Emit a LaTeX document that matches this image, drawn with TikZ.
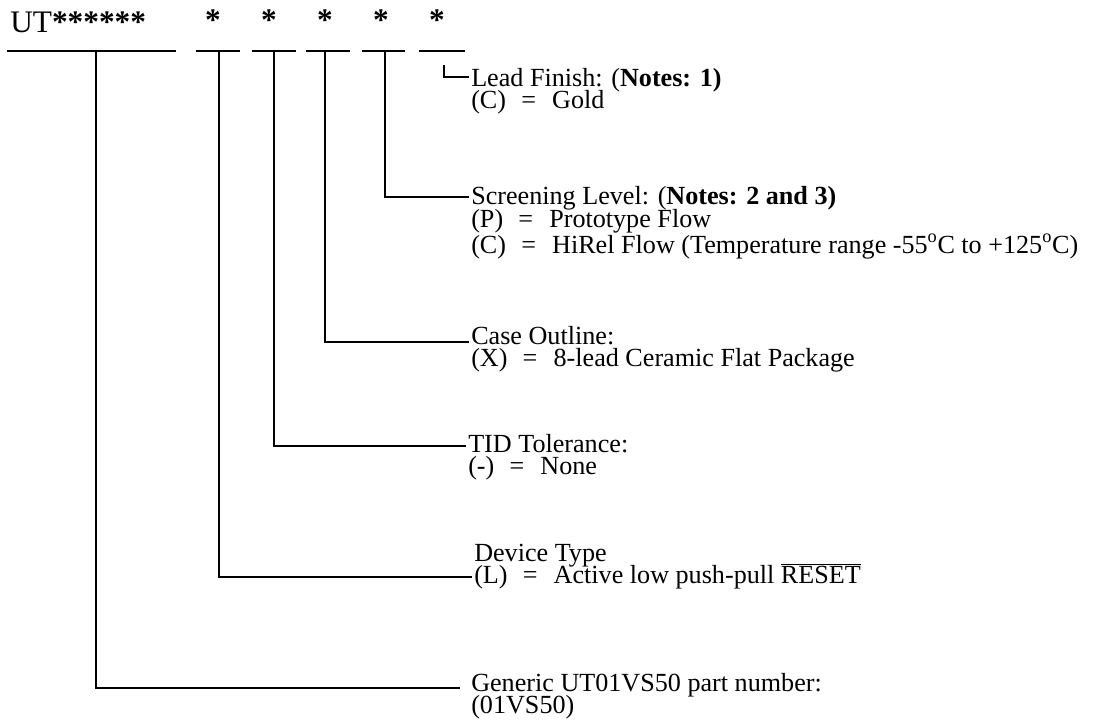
\documentclass[tikz,border=0pt]{standalone}
\usepackage{fontspec}
\setmainfont{Liberation Serif}
\begin{document}
\begin{tikzpicture}[x=0.75pt,y=-0.75pt,
  bar/.style={line width=2.2pt},
  conn/.style={line width=2pt},
  hdr/.style={inner sep=0pt,font=\fontsize{23.5}{28}\selectfont},
  txt/.style={anchor=base west,inner sep=0pt,font=\fontsize{19.6}{22}\selectfont}]
\newcommand{\optline}[2]{#1\hspace{0.58em}=\hspace{0.62em}#2}
\newcommand{\hstar}{\textbf{*}}
\useasboundingbox (0,0) rectangle (1096,726);
% header
\node[hdr,anchor=base west] (ut) at (10,32) {UT\hstar\hstar\hstar\hstar\hstar\hstar};
\node[hdr,anchor=base] (s1) at (213,30) {\hstar};
\node[hdr,anchor=base] (s2) at (269,30) {\hstar};
\node[hdr,anchor=base] (s3) at (325,30) {\hstar};
\node[hdr,anchor=base] (s4) at (381,30) {\hstar};
\node[hdr,anchor=base] (s5) at (437,30) {\hstar};
% bars
\coordinate (b1a) at (7,51);   \coordinate (b1b) at (176,51);
\coordinate (b2a) at (196,51); \coordinate (b2b) at (240,51);
\coordinate (b3a) at (252,51); \coordinate (b3b) at (296,51);
\coordinate (b4a) at (306,51); \coordinate (b4b) at (350,51);
\coordinate (b5a) at (362,51); \coordinate (b5b) at (405,51);
\coordinate (b6a) at (419,51); \coordinate (b6b) at (465,51);
\foreach \i in {1,...,6} \draw[bar] (b\i a) -- (b\i b);
% drop points
\coordinate (d1) at (96,51);
\coordinate (d2) at (219,51);
\coordinate (d3) at (274,51);
\coordinate (d4) at (325,51);
\coordinate (d5) at (385,51);
\coordinate (d6) at (444,65);
% connector ends
\coordinate (e1) at (460,688);
\coordinate (e2) at (472,577);
\coordinate (e3) at (466,446);
\coordinate (e4) at (469,342);
\coordinate (e5) at (469,197);
\coordinate (e6) at (469,77);
\foreach \i in {1,...,6} \draw[conn] (d\i) |- (e\i);
% texts
\node[txt] (lf) at (471,86) {Lead Finish: (\textbf{Notes: 1)}};
\node[txt] (lfc) at (471,108) {\optline{(C)}{Gold}};
\node[txt] (sl) at (471,204) {Screening Level: (\textbf{Notes: 2 and 3)}};
\node[txt] (slp) at (471,227) {\optline{(P)}{Prototype Flow}};
\node[txt] (slc) at (471,253) {\optline{(C)}{HiRel Flow (Temperature range -55\textsuperscript{o}C to +125\textsuperscript{o}C)}};
\node[txt] (co) at (471,344) {Case Outline:};
\node[txt] (cox) at (471,366) {\optline{(X)}{8-lead Ceramic Flat Package}};
\node[txt] (tid) at (468,452) {TID Tolerance:};
\node[txt] (tidn) at (468,474) {\optline{(-)}{None}};
\node[txt] (dt) at (474,561) {Device Type};
\node[txt] (dtl) at (474,583) {\optline{(L)}{Active low push-pull $\overline{\mbox{RESET}}$}};
\node[txt] (gen) at (471,691) {Generic UT01VS50 part number:};
\node[txt] (genv) at (471,713) {(01VS50)};
\end{tikzpicture}
\end{document}
